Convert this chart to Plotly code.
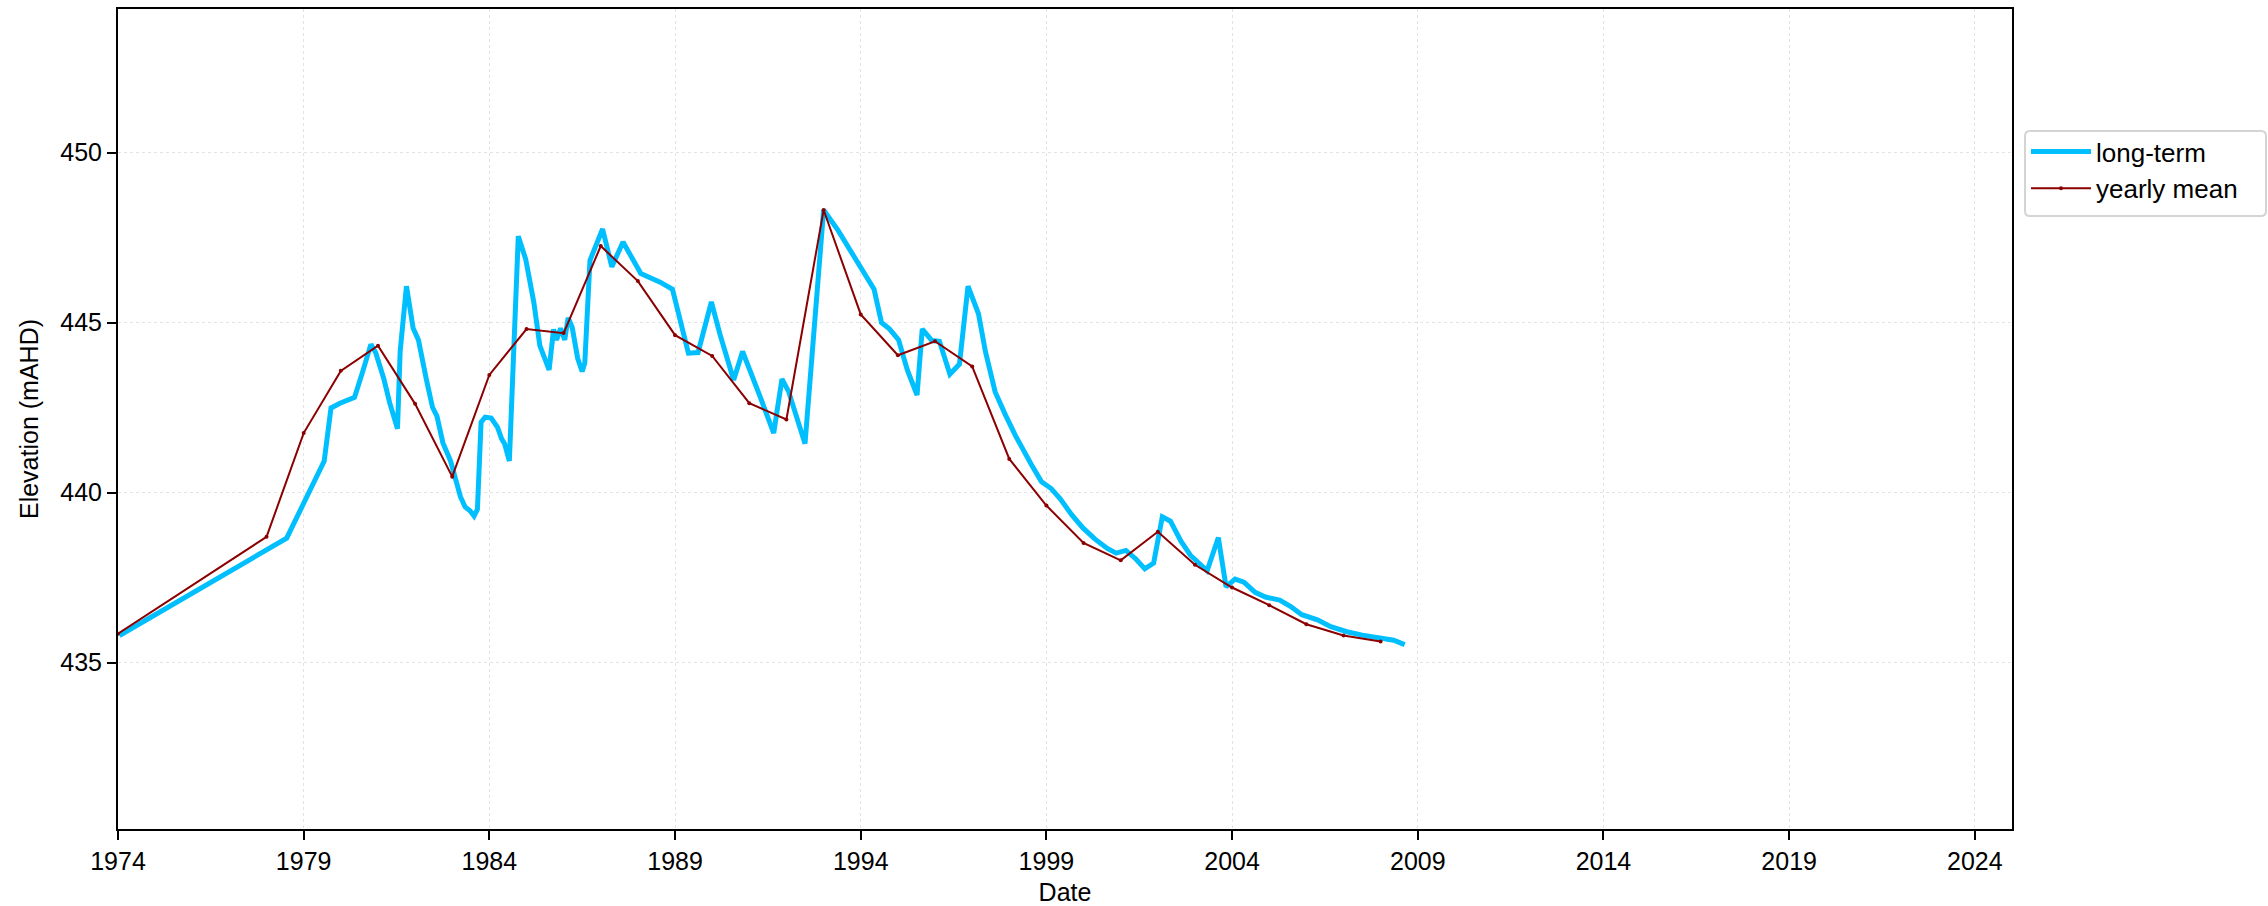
import plotly.graph_objects as go

# Long-term water level record (date, elevation in mAHD)
long_term_dates = [
    "1974-01-15", "1978-07-18", "1979-07-22", "1979-09-27", "1979-12-24",
    "1980-05-15", "1980-08-04", "1980-10-23", "1980-12-09", "1981-02-28",
    "1981-04-27", "1981-07-12", "1981-08-07", "1981-10-08", "1981-12-13",
    "1982-02-03", "1982-04-23", "1982-06-21", "1982-08-04", "1982-10-01",
    "1982-12-16", "1983-02-03", "1983-03-23", "1983-05-08", "1983-06-25",
    "1983-08-04", "1983-09-06", "1983-10-12", "1983-11-21", "1984-01-19",
    "1984-03-22", "1984-05-01", "1984-05-30", "1984-07-16", "1984-10-12",
    "1984-12-24", "1985-02-17", "1985-03-14", "1985-05-12", "1985-08-11",
    "1985-09-24", "1985-10-23", "1985-12-02", "1986-01-12", "1986-02-14",
    "1986-03-26", "1986-05-19", "1986-07-02", "1986-07-28", "1986-09-17",
    "1987-01-19", "1987-04-20", "1987-08-08", "1987-11-25", "1988-01-30",
    "1988-08-07", "1988-12-06", "1989-05-12", "1989-08-15", "1989-12-24",
    "1990-03-18", "1990-07-31", "1990-10-27", "1991-04-20", "1991-08-29",
    "1991-11-18", "1992-01-23", "1992-07-02", "1993-01-01", "1993-05-23",
    "1993-12-24", "1994-05-12", "1994-07-24", "1994-10-12", "1995-01-08",
    "1995-04-05", "1995-07-09", "1995-08-29", "1995-12-02", "1996-02-14",
    "1996-05-27", "1996-08-29", "1996-11-21", "1997-03-04", "1997-05-12",
    "1997-08-15", "1997-11-25", "1998-03-04", "1998-08-07", "1998-11-14",
    "1999-02-17", "1999-05-19", "1999-09-06", "1999-12-24", "2000-04-20",
    "2000-08-22", "2000-11-17", "2001-02-21", "2001-05-30", "2001-08-26",
    "2001-11-21", "2002-02-14", "2002-05-05", "2002-08-15", "2002-11-17",
    "2003-02-24", "2003-05-01", "2003-08-19", "2003-11-03", "2004-01-30",
    "2004-04-27", "2004-08-15", "2004-11-25", "2005-04-13", "2005-07-31",
    "2005-11-17", "2006-04-20", "2006-08-29", "2007-02-03", "2007-07-05",
    "2007-12-06", "2008-05-08", "2008-08-25",
]
long_term_levels = [
    435.80, 438.66, 440.93, 442.49, 442.63,
    442.80, 443.56, 444.36, 444.12, 443.34,
    442.63, 441.88, 444.15, 446.07, 444.83,
    444.49, 443.31, 442.51, 442.25, 441.47,
    440.93, 440.42, 439.88, 439.58, 439.47,
    439.31, 439.51, 442.07, 442.22, 442.19,
    441.92, 441.58, 441.44, 440.93, 447.54,
    446.86, 446.07, 445.59, 444.32, 443.61,
    444.80, 444.49, 444.83, 444.49, 445.14,
    444.86, 443.95, 443.56, 443.81, 446.83,
    447.75, 446.64, 447.37, 446.75, 446.44,
    446.19, 445.98, 444.10, 444.12, 445.61,
    444.66, 443.31, 444.15, 442.80, 441.75,
    443.34, 442.97, 441.44, 448.31, 447.71,
    446.69, 445.98, 445.00, 444.81, 444.49,
    443.60, 442.87, 444.81, 444.47, 444.45,
    443.48, 443.78, 446.07, 445.26, 444.14,
    442.96, 442.28, 441.67, 440.82, 440.32,
    440.12, 439.81, 439.35, 438.97, 438.64,
    438.36, 438.22, 438.30, 438.05, 437.76,
    437.93, 439.29, 439.16, 438.58, 438.16,
    437.87, 437.70, 438.68, 437.23, 437.46,
    437.37, 437.07, 436.93, 436.84, 436.65,
    436.41, 436.26, 436.06, 435.91, 435.81,
    435.72, 435.66, 435.53,
]

# Yearly mean levels
yearly_dates = [
    "1974-01-01", "1978-01-01", "1979-01-01", "1980-01-01", "1981-01-01",
    "1982-01-01", "1983-01-01", "1984-01-01", "1985-01-01", "1986-01-01",
    "1987-01-01", "1988-01-01", "1989-01-01", "1990-01-01", "1991-01-01",
    "1992-01-01", "1993-01-01", "1994-01-01", "1995-01-01", "1996-01-01",
    "1997-01-01", "1998-01-01", "1999-01-01", "2000-01-01", "2001-01-01",
    "2002-01-01", "2003-01-01", "2004-01-01", "2005-01-01", "2006-01-01",
    "2007-01-01", "2008-01-01",
]
yearly_means = [
    435.85, 438.70, 441.75, 443.58, 444.32,
    442.61, 440.47, 443.46, 444.81, 444.69,
    447.25, 446.22, 444.63, 444.02, 442.63,
    442.15, 448.31, 445.24, 444.04, 444.45,
    443.71, 440.99, 439.62, 438.52, 438.01,
    438.85, 437.88, 437.21, 436.69, 436.13,
    435.80, 435.62,
]

x_range = ["1974-01-01", "2025-01-01"]
y_range = [430.11, 454.22]
y_ticks = [435, 440, 445, 450]

FONT = "Liberation Sans, Arial, sans-serif"

# Figure geometry (pixels)
W, H = 2268, 906
M_L, M_R, M_T, M_B = 118, 256, 9, 77
PW, PH = W - M_L - M_R, H - M_T - M_B

fig = go.Figure()
fig.add_trace(go.Scatter(
    x=long_term_dates, y=long_term_levels, mode="lines", name="long-term",
    line=dict(color="#00BFFF", width=5),
))
fig.add_trace(go.Scatter(
    x=yearly_dates, y=yearly_means, mode="lines+markers", name="yearly mean",
    line=dict(color="#8B0000", width=2),
    marker=dict(color="#8B0000", size=4),
))

axis_common = dict(
    showline=True, linecolor="black", linewidth=2, mirror=True,
    ticks="outside", ticklen=9, tickwidth=2, tickcolor="black",
    showgrid=True, gridcolor="#e3e3e3", gridwidth=1, griddash="dot",
    zeroline=False, automargin=False,
    tickfont=dict(family=FONT, size=25, color="black"),
    title_font=dict(family=FONT, size=25, color="black"),
)

fig.update_xaxes(
    type="date", range=x_range, tick0="1974-01-01", dtick="M60",
    tickformat="%Y", title_text="Date", **axis_common,
)
fig.update_yaxes(
    range=y_range, tickvals=y_ticks, title_text="Elevation (mAHD)",
    **axis_common,
)


def px_to_paper(px, py):
    return (px - M_L) / PW, (H - M_B - py) / PH


# Rounded frame around the legend
lx0, ly0, lx1, ly1, rad = 2025, 131, 2266, 216, 5
rx, ry = rad / PW, rad / PH
ax0, ay0 = px_to_paper(lx0, ly0)
ax1, ay1 = px_to_paper(lx1, ly1)
frame = (
    f"M{ax0 + rx},{ay0} L{ax1 - rx},{ay0} Q{ax1},{ay0} {ax1},{ay0 - ry} "
    f"L{ax1},{ay1 + ry} Q{ax1},{ay1} {ax1 - rx},{ay1} "
    f"L{ax0 + rx},{ay1} Q{ax0},{ay1} {ax0},{ay1 + ry} "
    f"L{ax0},{ay0 - ry} Q{ax0},{ay0} {ax0 + rx},{ay0} Z"
)
fig.add_shape(type="path", path=frame, xref="paper", yref="paper",
              line=dict(color="#d4d4d4", width=2), fillcolor="white",
              layer="below")

leg_x, leg_y = px_to_paper(2026, 128)

fig.update_layout(
    width=W, height=H,
    margin=dict(l=M_L, r=M_R, t=M_T, b=M_B),
    paper_bgcolor="white", plot_bgcolor="white",
    font=dict(family=FONT, size=25, color="black"),
    showlegend=True,
    legend=dict(
        x=leg_x, y=leg_y, xanchor="left", yanchor="top",
        borderwidth=0, bgcolor="rgba(0,0,0,0)",
        font=dict(family=FONT, size=26, color="black"),
        tracegroupgap=0, itemwidth=60,
    ),
)

fig.write_html("out.html")
